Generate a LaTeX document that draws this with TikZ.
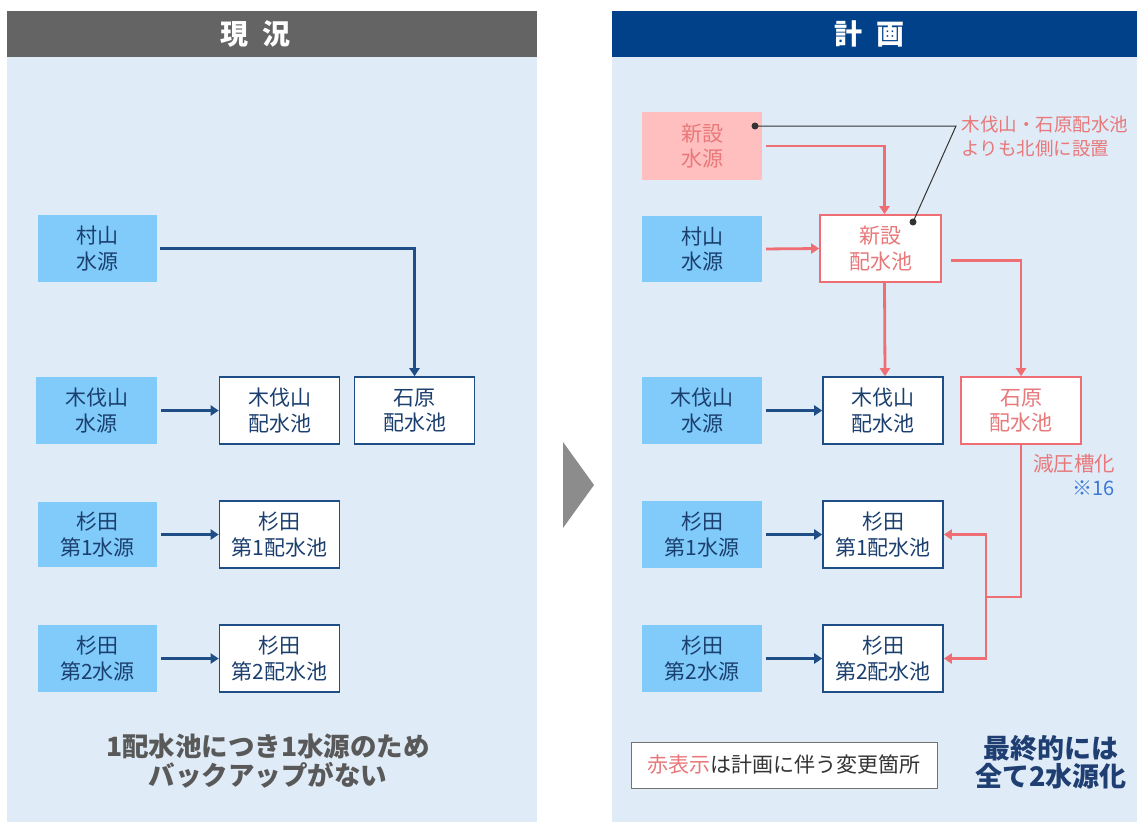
\documentclass[tikz,border=0pt]{standalone}
\usepackage{fontspec}
\setmainfont{Noto Sans CJK JP}
\usetikzlibrary{arrows.meta}
\definecolor{panelbg}{HTML}{DFEBF7}
\definecolor{hdgray}{HTML}{646464}
\definecolor{hdblue}{HTML}{004189}
\definecolor{srcblue}{HTML}{80CBFA}
\definecolor{dkblue}{HTML}{1F4E86}
\definecolor{txtblue}{HTML}{1B3F6E}
\definecolor{pinkfill}{HTML}{FFBFBF}
\definecolor{redtxt}{HTML}{E8787A}
\definecolor{redln}{HTML}{EE6E73}
\definecolor{notegray}{HTML}{595959}
\definecolor{navy}{HTML}{1F3F73}
\definecolor{refblue}{HTML}{3C78D8}
\tikzset{
  box/.style={minimum width=120pt, minimum height=67pt, inner sep=0pt, align=center,
    font=\fontsize{21}{25.5}\selectfont},
  src/.style={box, fill=srcblue, text=txtblue},
  tank/.style={box, fill=white, draw=dkblue, line width=1.6pt, text=txtblue},
  rtank/.style={box, fill=white, draw=redln, line width=1.6pt, text=redtxt},
  newsrc/.style={box, fill=pinkfill, text=redtxt},
  barrow/.style={draw=dkblue, line width=2.8pt, -{Triangle[length=8pt,width=10pt]}},
  rarrow/.style={draw=redln, line width=2.8pt, -{Triangle[length=8pt,width=10pt]}},
  rline/.style={draw=redln, line width=2.8pt},
  hdtext/.style={text=white, font=\fontsize{28}{30}\selectfont\bfseries},
}
\begin{document}
\begin{tikzpicture}[x=1pt, y=-1pt]
\useasboundingbox (0,0) rectangle (1137,822);
\fill[white] (0,0) rectangle (1137,822);
% panels
\fill[panelbg] (7,57) rectangle (537,822);
\fill[hdgray] (7,11) rectangle (537,57);
\node[hdtext] (hl) at (255,34) {現\hspace{14pt}況};
\fill[panelbg] (612,57) rectangle (1137,822);
\fill[hdblue] (612,11) rectangle (1137,57);
\node[hdtext] (hr) at (869,34) {計\hspace{14pt}画};
% triangle
\fill[black!45] (563,442) -- (563,528) -- (594,485) -- cycle;

% ---------- left ----------
\node[src, minimum width=119pt] (ls1) at (97.5,248.5) {村山\\水源};
\node[src, minimum width=121pt] (ls2) at (96.5,410.5) {木伐山\\水源};
\node[src, minimum width=119pt, minimum height=65pt] (ls3) at (97.5,534.5) {杉田\\第1水源};
\node[src, minimum width=119pt] (ls4) at (97.5,658.5) {杉田\\第2水源};
\node[tank] (lt2) at (279.5,410.5) {木伐山\\配水池};
\node[tank] (lt5) at (414.5,410.5) {石原\\配水池};
\node[tank] (lt3) at (279.5,534.5) {杉田\\第1配水池};
\node[tank] (lt4) at (279.5,658.5) {杉田\\第2配水池};
\draw[barrow, shorten <=3pt] (ls1.east) -| (lt5.north);
\draw[barrow, shorten <=4pt] (ls2.east) -- (lt2.west);
\draw[barrow, shorten <=4pt] (ls3.east) -- (lt3.west);
\draw[barrow, shorten <=4pt] (ls4.east) -- (lt4.west);
\node[text=notegray, align=center, font=\fontsize{26.5}{29}\selectfont\bfseries] (lnote) at (268,761)
  {1配水池につき1水源のため\\バックアップがない};

% ---------- right ----------
\node[newsrc, minimum height=68pt] (ns) at (702,146) {新設\\水源};
\node[src, minimum height=66pt] (rs1) at (702,249) {村山\\水源};
\node[rtank, minimum width=121pt] (nt) at (880.5,248.5) {新設\\配水池};
\node[src] (rs2) at (702,410.5) {木伐山\\水源};
\node[tank] (rt2) at (883,410.5) {木伐山\\配水池};
\node[rtank] (rt5) at (1021,410.5) {石原\\配水池};
\node[src] (rs3) at (702,534.5) {杉田\\第1水源};
\node[tank] (rt3) at (883,534.5) {杉田\\第1配水池};
\node[src] (rs4) at (702,658.5) {杉田\\第2水源};
\node[tank] (rt4) at (883,658.5) {杉田\\第2配水池};

\draw[barrow, shorten <=4pt] (rs2.east) -- (rt2.west);
\draw[barrow, shorten <=4pt] (rs3.east) -- (rt3.west);
\draw[barrow, shorten <=4pt] (rs4.east) -- (rt4.west);

\draw[rarrow, shorten <=4pt] (ns.east) -| ([xshift=4pt]nt.north);
\draw[rarrow, shorten <=4pt] (rs1.east) -- (nt.west);
\draw[rarrow] ([xshift=4pt]nt.south) -- ([xshift=2pt]rt2.north);
\draw[rarrow, shorten <=9pt] ([yshift=-12pt]nt.east) -| (rt5.north);
\coordinate (jn) at (986,597);
\draw[rline] (rt5.south) |- (jn);
\draw[rarrow] (jn) |- (rt3.east);
\draw[rarrow] (jn) |- (rt4.east);

% callout
\coordinate (d1) at (755,126);
\coordinate (d2) at (913,222);
\coordinate (bend) at (956,126);
\draw[black!80, line width=1pt] (d1) -- (bend) -- (d2);
\fill[black!80] (d1) circle (3.5pt) (d2) circle (3.5pt);
\node[text=redtxt, anchor=west, align=left, font=\fontsize{18.5}{24}\selectfont] (cnote) at (958,136)
  {木伐山・石原配水池\\よりも北側に設置};

\node[text=redtxt, font=\fontsize{20.5}{24}\selectfont] (gen) at (1074,464) {減圧槽化};
\node[text=refblue, font=\fontsize{20}{24}\selectfont, anchor=east] (ref) at (1118,488) {※16};

% legend
\node[draw=black!55, line width=1pt, fill=white, minimum width=306pt, minimum height=46pt, inner sep=0pt,
  font=\fontsize{21}{25}\selectfont, text=black!80] (leg) at (784,765)
  {\textcolor{redtxt}{赤表示}は計画に伴う変更箇所};
\node[text=navy, align=center, font=\fontsize{27}{28}\selectfont\bfseries] (fin) at (1051,762)
  {最終的には\\全て2水源化};
\end{tikzpicture}
\end{document}
